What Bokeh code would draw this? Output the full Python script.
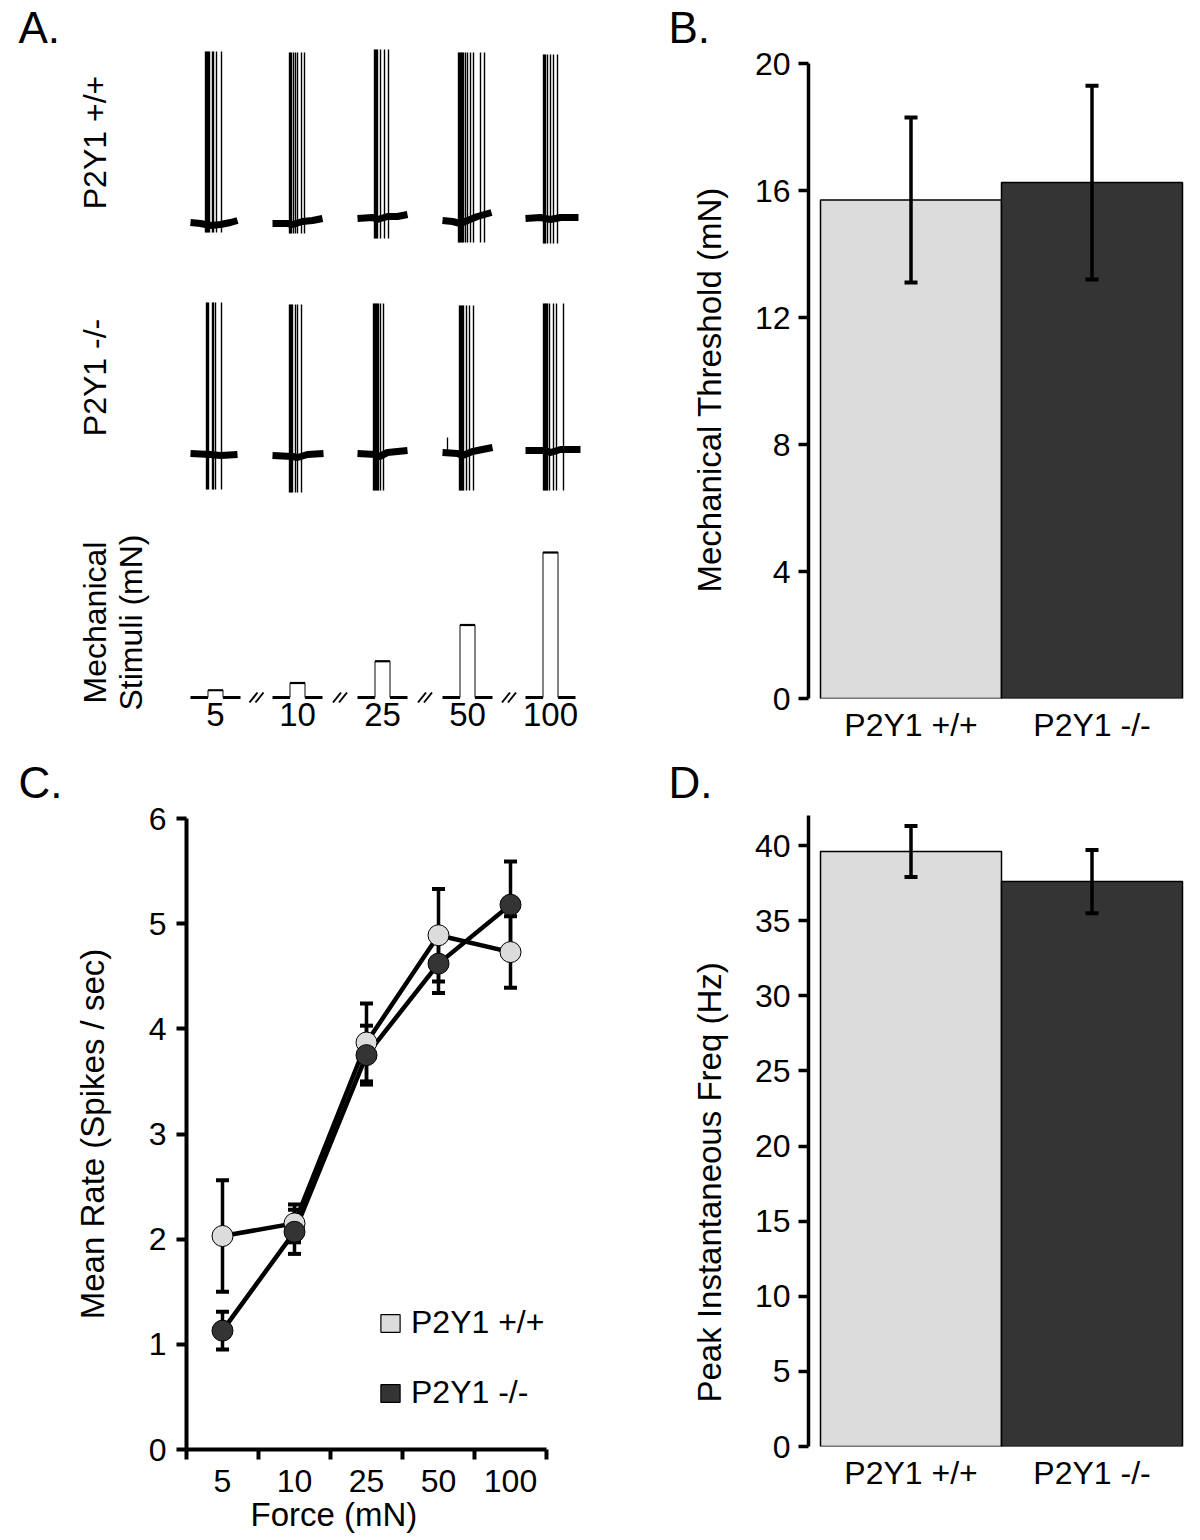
import math
from bokeh.plotting import figure
from bokeh.models import (Range1d, FixedTicker, Whisker, ColumnDataSource, Legend,
                          LegendItem, TeeHead, Title)
from bokeh.layouts import row, column
from bokeh.embed import file_html
from bokeh.resources import INLINE
from bokeh.core.properties import value

FONT = "Liberation Sans"
FS = "32px"
LABEL_FS = "33px"
LETTER_FS = "44px"

# ------------------------------------------------------------------ data
GENOTYPES = ["P2Y1 +/+", "P2Y1 -/-"]
FORCE_LABELS = ["5", "10", "25", "50", "100"]
FORCE_MN = [5, 10, 25, 50, 100]

# B: mechanical threshold (mN)
THRESH_MEAN = [15.7, 16.25]
THRESH_SEM = [2.6, 3.05]
THRESH_TICKS = [0, 4, 8, 12, 16, 20]

# D: peak instantaneous frequency (Hz)
PEAK_MEAN = [39.6, 37.6]
PEAK_SEM = [1.7, 2.1]
PEAK_TICKS = [0, 5, 10, 15, 20, 25, 30, 35, 40]

# C: mean rate (spikes / sec) per force
RATE_WT = [2.03, 2.15, 3.87, 4.89, 4.73]
RATE_WT_SEM = [0.53, 0.18, 0.37, 0.44, 0.34]
RATE_KO = [1.13, 2.07, 3.75, 4.62, 5.18]
RATE_KO_SEM = [0.18, 0.21, 0.28, 0.28, 0.41]
RATE_TICKS = [0, 1, 2, 3, 4, 5, 6]

# A: example recordings (time in ms from trace start, amplitude in a.u.)
WT_SPIKES = [
    [300, 320, 340, 360, 380, 440, 460, 520, 620],
    [340, 360, 380, 420, 460, 500, 580, 640],
    [340, 360, 380, 400, 460, 540, 620],
    [320, 340, 360, 380, 400, 420, 460, 500, 560, 620, 760, 840],
    [360, 380, 400, 440, 500, 560, 640],
]
WT_PEAK = [171, 170, 173, 170, 168]
WT_TROUGH = [-10, -11, -16, -20, -21]
WT_BASE_T = [
    [0, 200, 400, 600, 800, 940],
    [0, 300, 400, 600, 800, 1000],
    [0, 300, 400, 600, 800, 1000],
    [0, 200, 360, 500, 700, 980],
    [0, 300, 500, 700, 1060],
]
WT_BASE_V = [
    [0, -1, -3, -2, 0, 2],
    [-1, -1, -2, 1, 2, 4],
    [4, 5, 3, 6, 6, 8],
    [2, 1, -1, 2, 6, 10],
    [4, 5, 3, 5, 5],
]

KO_SPIKES = [
    [320, 340, 360, 440, 460, 500, 620],
    [340, 360, 380, 400, 460, 500, 580],
    [320, 340, 360, 380, 400, 420, 460, 520],
    [340, 360, 380, 400, 420, 480, 540, 620],
    [360, 380, 400, 420, 440, 480, 560, 620, 760],
]
KO_PEAK = [151, 149, 150, 148, 150]
KO_TROUGH = [-36, -39, -37, -37, -37]
KO_BASE_T = [
    [0, 400, 600, 940],
    [0, 400, 500, 700, 1020],
    [0, 360, 440, 600, 1000],
    [0, 300, 400, 600, 1000],
    [0, 400, 500, 700, 1100],
]
KO_BASE_V = [
    [0, -1, -2, -1],
    [-2, -3, -4, -1, 0],
    [0, -1, -3, 1, 3],
    [1, 0, -2, 2, 6],
    [3, 3, 1, 4, 4],
]
KO_EXTRA_T = [100]      # small isolated spike in 4th -/- trace
KO_EXTRA_AMP = [16]

STIM_ON_MS = 350
STIM_DUR_MS = 300

WT_FILL = "#dcdcdc"
KO_FILL = "#343434"

# ------------------------------------------------------------------ layout constants
COL_W = 598
TOP_H = 750          # panel A height / top of lower row
HEAD_B = 44          # strip above panel B holding its letter
HEAD_CD = 50         # strips above panels C and D
LOW_H = 736          # panels C and D


def style_axis(ax, lw=3.5):
    ax.axis_line_width = lw
    ax.axis_line_color = "black"
    ax.major_tick_line_width = lw
    ax.major_tick_line_color = "black"
    ax.major_tick_out = 10
    ax.major_tick_in = 0
    ax.minor_tick_line_color = None
    ax.major_label_text_font = FONT
    ax.major_label_text_font_size = FS
    ax.major_label_text_color = "black"
    ax.axis_label_text_font = FONT
    ax.axis_label_text_font_size = LABEL_FS
    ax.axis_label_text_font_style = "normal"
    ax.axis_label_text_color = "black"


def text_title(text, offset, standoff, valign="bottom"):
    return Title(text=text, align="left", offset=offset, standoff=standoff,
                 vertical_align=valign, text_font=FONT, text_font_size=LABEL_FS,
                 text_font_style="normal", text_color="black")


def make_fig(w, h, xr, yr, left, right, top, bottom):
    p = figure(width=w, height=h, x_range=xr, y_range=yr, output_backend="svg",
               toolbar_location=None, min_border_left=left, min_border_right=right,
               min_border_top=top, min_border_bottom=bottom, frame_align=False)
    p.outline_line_color = None
    p.xgrid.visible = False
    p.ygrid.visible = False
    p.background_fill_color = "white"
    p.border_fill_color = "white"
    return p


def letter_strip(h, letter, x, middle_from_bottom):
    s = make_fig(COL_W, h, Range1d(0, COL_W), Range1d(0, h), 0, 0, 0, 0)
    s.axis.visible = False
    s.text(x=[x], y=[middle_from_bottom], text=[letter], text_font=value(FONT),
           text_font_size=value(LETTER_FS), text_align="left",
           text_baseline="middle", text_color="black")
    return s


# ------------------------------------------------------------------ Panel A
pA = make_fig(COL_W, TOP_H, Range1d(0, COL_W), Range1d(0, TOP_H), 0, 0, 0, 0)
pA.axis.visible = False


def ay_(ref_y):
    return TOP_H - ref_y


GROUP_X = [190, 272, 357, 442, 525]
PX_PER_MS = 0.05
PX_PER_MN = 1.45


def draw_row(spikes, peaks, troughs, base_t, base_v, y0):
    for g in range(5):
        gx = GROUP_X[g]
        pA.line([gx + t * PX_PER_MS for t in base_t[g]], [y0 + v for v in base_v[g]],
                line_width=7, color="black", line_join="round")
        sx = [gx + t * PX_PER_MS for t in spikes[g]]
        n = len(sx)
        pA.segment(x0=sx, y0=[y0 + troughs[g]] * n, x1=sx, y1=[y0 + peaks[g]] * n,
                   line_width=1.4, color="black")


WT_Y = ay_(222)
KO_Y = ay_(453)
ST_Y = ay_(697)
draw_row(WT_SPIKES, WT_PEAK, WT_TROUGH, WT_BASE_T, WT_BASE_V, WT_Y)
draw_row(KO_SPIKES, KO_PEAK, KO_TROUGH, KO_BASE_T, KO_BASE_V, KO_Y)
ex = [GROUP_X[3] + t * PX_PER_MS for t in KO_EXTRA_T]
pA.segment(x0=ex, y0=[KO_Y] * len(ex), x1=ex, y1=[KO_Y + a for a in KO_EXTRA_AMP],
           line_width=1.3, color="black")

# stimulus steps
TRACE_MS = 1000
for g, f in enumerate(FORCE_MN):
    gx = GROUP_X[g]
    on = gx + STIM_ON_MS * PX_PER_MS
    off = gx + (STIM_ON_MS + STIM_DUR_MS) * PX_PER_MS
    end = gx + TRACE_MS * PX_PER_MS
    h = ST_Y + f * PX_PER_MN
    pA.multi_line([[gx, on], [off, end]], [[ST_Y, ST_Y], [ST_Y, ST_Y]], line_width=3, color="black")
    pA.line([on, on, off, off], [ST_Y, h, h, ST_Y], line_width=1.2, color="#333333")
    pA.line([on, off], [h, h], line_width=2.2, color="black")

# break marks between traces
for g in range(4):
    mid = (GROUP_X[g] + TRACE_MS * PX_PER_MS + GROUP_X[g + 1]) / 2
    xs0 = [mid - 7, mid - 1]
    pA.segment(x0=xs0, y0=[ST_Y - 5] * 2, x1=[v + 8 for v in xs0], y1=[ST_Y + 5] * 2,
               line_width=2, color="black")

# force labels under the steps
centers = [gx + (STIM_ON_MS + STIM_DUR_MS / 2) * PX_PER_MS for gx in GROUP_X]
pA.text(x=centers, y=[ay_(714)] * 5, text=FORCE_LABELS, text_font=value(FONT),
        text_font_size=value("33px"), text_align="center", text_baseline="middle",
        text_color="black")

pA.text(x=[94, 94, 94, 130],
        y=[ay_(142), ay_(377), ay_(622), ay_(622)],
        text=[GENOTYPES[0], GENOTYPES[1], "Mechanical", "Stimuli (mN)"],
        angle=math.pi / 2, text_font=value(FONT), text_font_size=value(FS),
        text_align="center", text_baseline="middle", text_color="black")
pA.text(x=[18], y=[ay_(27)], text=["A."], text_font=value(FONT),
        text_font_size=value(LETTER_FS), text_align="left", text_baseline="middle",
        text_color="black")

# ------------------------------------------------------------------ Panels B and D (bars)
BAR_PX = 181.0
XB0 = 0.5 - 12 / BAR_PX
XB1 = 2.5 + 3 / BAR_PX
BAR_X = [1, 2]


def bar_panel(h, top, bottom, ymax, ticks, means, sems, ylabel, label_offset):
    p = make_fig(COL_W, h, Range1d(XB0, XB1), Range1d(0, ymax), 210, 11, top, bottom)
    p.vbar(x=BAR_X, top=means, width=1.0, bottom=0, fill_color=[WT_FILL, KO_FILL],
           line_color="black", line_width=1.5)
    src = ColumnDataSource(dict(x=BAR_X, upper=[m + s for m, s in zip(means, sems)],
                                lower=[m - s for m, s in zip(means, sems)]))
    p.add_layout(Whisker(source=src, base="x", upper="upper", lower="lower",
                         line_width=3.5, line_color="black", level="overlay",
                         upper_head=TeeHead(size=13, line_width=4, line_color="black"),
                         lower_head=TeeHead(size=13, line_width=4, line_color="black")))
    ya = p.yaxis[0]
    style_axis(ya)
    ya.ticker = FixedTicker(ticks=ticks)
    ya.major_label_standoff = 8
    xa = p.xaxis[0]
    style_axis(xa)
    xa.ticker = FixedTicker(ticks=BAR_X)
    xa.major_label_overrides = {1: GENOTYPES[0], 2: GENOTYPES[1]}
    xa.axis_line_color = None
    xa.major_tick_line_color = None
    xa.major_tick_out = 0
    xa.major_label_standoff = 8
    p.add_layout(text_title(ylabel, label_offset, 48), "left")
    return p


hB = letter_strip(HEAD_B, "B.", 70, HEAD_B - 27)
pB = bar_panel(TOP_H - HEAD_B, 63 - HEAD_B, 52, 20, THRESH_TICKS, THRESH_MEAN, THRESH_SEM,
               "Mechanical Threshold (mN)", 106)
hD = letter_strip(HEAD_CD, "D.", 70, TOP_H + HEAD_CD - 782)
pD = bar_panel(LOW_H, 815 - TOP_H - HEAD_CD, 90, 42, PEAK_TICKS, PEAK_MEAN, PEAK_SEM,
               "Peak Instantaneous Freq (Hz)", 44)

# ------------------------------------------------------------------ Panel C
hC = letter_strip(HEAD_CD, "C.", 18, TOP_H + HEAD_CD - 782)
pC = make_fig(COL_W, LOW_H, Range1d(0, 5), Range1d(0, 6), 186, 52,
              818 - TOP_H - HEAD_CD, 87)
xc = [i + 0.5 for i in range(len(FORCE_LABELS))]

for means, sems in ((RATE_WT, RATE_WT_SEM), (RATE_KO, RATE_KO_SEM)):
    src = ColumnDataSource(dict(x=xc, upper=[m + s for m, s in zip(means, sems)],
                                lower=[m - s for m, s in zip(means, sems)]))
    pC.add_layout(Whisker(source=src, base="x", upper="upper", lower="lower",
                          line_width=3.5, line_color="black",
                          upper_head=TeeHead(size=13, line_width=4, line_color="black"),
                          lower_head=TeeHead(size=13, line_width=4, line_color="black")))
pC.line(xc, RATE_KO, line_width=4.5, color="black")
pC.line(xc, RATE_WT, line_width=4.5, color="black")
pC.scatter(xc, RATE_WT, size=21, fill_color=WT_FILL, line_color="black", line_width=1)
pC.scatter(xc, RATE_KO, size=21, fill_color=KO_FILL, line_color="black", line_width=1)

cy = pC.yaxis[0]
style_axis(cy, 4)
cy.ticker = FixedTicker(ticks=RATE_TICKS)
cy.major_label_standoff = 10
cy.axis_label = "Mean Rate (Spikes / sec)"
cy.axis_label_standoff = 35
cx = pC.xaxis[0]
style_axis(cx, 4)
cx.ticker = FixedTicker(ticks=xc, minor_ticks=list(range(len(FORCE_LABELS) + 1)))
cx.major_label_overrides = {x: l for x, l in zip(xc, FORCE_LABELS)}
cx.major_tick_line_color = None
cx.minor_tick_line_color = "black"
cx.minor_tick_line_width = 4
cx.minor_tick_out = 10
cx.minor_tick_in = 0
cx.major_label_standoff = 10
pC.add_layout(text_title("Force (mN)", 64, 2, "top"), "below")

nan = float("nan")
leg_wt = pC.quad(left=[nan], right=[nan], top=[nan], bottom=[nan], fill_color=WT_FILL,
                 line_color="black", line_width=1.2)
leg_ko = pC.quad(left=[nan], right=[nan], top=[nan], bottom=[nan], fill_color=KO_FILL,
                 line_color="black", line_width=1.2)
legend = Legend(items=[LegendItem(label=GENOTYPES[0], renderers=[leg_wt]),
                       LegendItem(label=GENOTYPES[1], renderers=[leg_ko])],
                location=(192, 38), glyph_width=24, glyph_height=22,
                label_text_font=FONT, label_text_font_size=FS, label_standoff=9,
                label_text_color="black",
                spacing=33, padding=10, margin=0, background_fill_alpha=0,
                border_line_color=None)
pC.add_layout(legend)

layout = row(column(pA, hC, pC), column(hB, pB, hD, pD))
open("out.html", "w").write(file_html(layout, INLINE))
